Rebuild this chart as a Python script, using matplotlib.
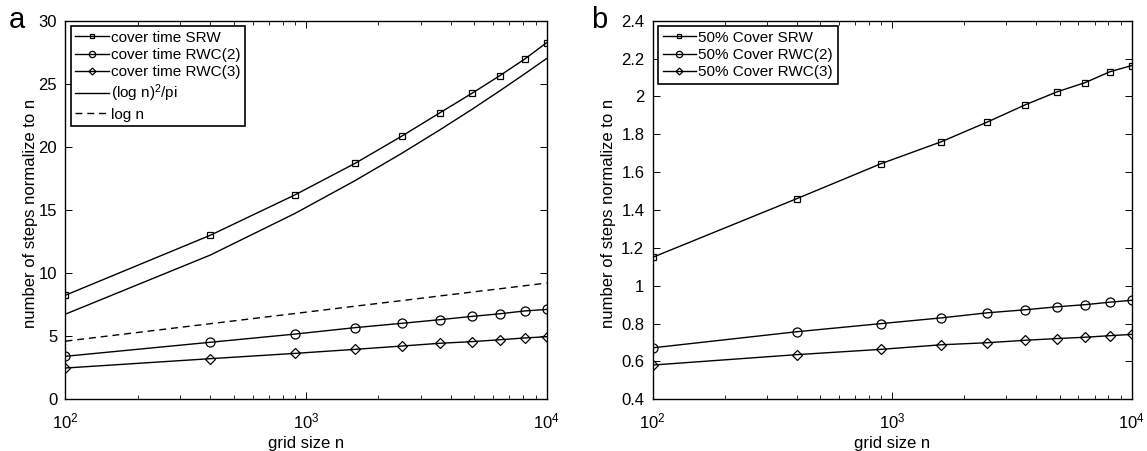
import math
import matplotlib
matplotlib.use("Agg")
import matplotlib.pyplot as plt
from matplotlib.ticker import LogLocator, NullFormatter, FixedLocator, FuncFormatter

plt.rcParams['font.family'] = ['Liberation Sans', 'DejaVu Sans']
plt.rcParams['mathtext.fontset'] = 'custom'
plt.rcParams['mathtext.rm'] = 'Liberation Sans'
plt.rcParams['mathtext.it'] = 'Liberation Sans'

grid_n = [100, 400, 900, 1600, 2500, 3600, 4900, 6400, 8100, 10000]

# panel a
cover_srw = [8.25, 13.0, 16.2, 18.7, 20.85, 22.7, 24.25, 25.65, 26.95, 28.25]
cover_rwc2 = [3.41, 4.52, 5.17, 5.68, 6.02, 6.31, 6.57, 6.78, 7.0, 7.12]
cover_rwc3 = [2.48, 3.22, 3.64, 3.96, 4.22, 4.44, 4.57, 4.72, 4.86, 4.96]
log_sq_pi = [6.75, 11.43, 14.73, 17.33, 19.49, 21.35, 22.98, 24.45, 25.78, 27.0]
log_n = [4.61, 5.99, 6.80, 7.38, 7.82, 8.19, 8.50, 8.76, 9.00, 9.21]

# panel b
half_srw = [1.15, 1.46, 1.645, 1.76, 1.865, 1.956, 2.025, 2.073, 2.13, 2.163]
half_rwc2 = [0.672, 0.757, 0.80, 0.83, 0.857, 0.873, 0.889, 0.90, 0.913, 0.923]
half_rwc3 = [0.581, 0.636, 0.664, 0.688, 0.699, 0.712, 0.721, 0.728, 0.736, 0.743]

fig = plt.figure(figsize=(11.47, 4.51), dpi=100)
axa = fig.add_axes([0.0571, 0.1146, 0.4194, 0.8395])
axb = fig.add_axes([0.569, 0.1146, 0.4176, 0.8395])

lw = 1.0
mk = dict(markerfacecolor='none', markeredgecolor='black', markeredgewidth=0.9)
sq = dict(marker='s', ms=5)
ci = dict(marker='o', ms=6.5)
di = dict(marker='D', ms=5)

axa.plot(grid_n, cover_srw, '-', color='black', lw=lw, label='cover time SRW', **sq, **mk)
axa.plot(grid_n, cover_rwc2, '-', color='black', lw=lw, label='cover time RWC(2)', **ci, **mk)
axa.plot(grid_n, cover_rwc3, '-', color='black', lw=lw, label='cover time RWC(3)', **di, **mk)
axa.plot(grid_n, log_sq_pi, '-', color='black', lw=lw, label=r'(log n)$^{2}$/pi')
axa.plot(grid_n, log_n, '--', color='black', lw=lw, label='log n', dashes=(5, 3.5))

axb.plot(grid_n, half_srw, '-', color='black', lw=lw, label='50% Cover SRW', **sq, **mk)
axb.plot(grid_n, half_rwc2, '-', color='black', lw=lw, label='50% Cover RWC(2)', **ci, **mk)
axb.plot(grid_n, half_rwc3, '-', color='black', lw=lw, label='50% Cover RWC(3)', **di, **mk)

axa.set_ylim(0, 30)
axa.set_yticks([0, 5, 10, 15, 20, 25, 30])
axb.set_ylim(0.4, 2.4)
axb.set_yticks([0.4, 0.6, 0.8, 1.0, 1.2, 1.4, 1.6, 1.8, 2.0, 2.2, 2.4])
axb.set_yticklabels(['0.4', '0.6', '0.8', '1', '1.2', '1.4', '1.6', '1.8', '2', '2.2', '2.4'])

for ax, ylx in ((axa, -0.072), (axb, -0.093)):
    ax.set_xscale('log')
    ax.set_xlim(100, 10000)
    ax.xaxis.set_major_locator(FixedLocator([100, 1000, 10000]))
    ax.xaxis.set_major_formatter(FuncFormatter(
        lambda v, p: r'$\mathdefault{10^{%d}}$' % round(math.log10(v))))
    ax.xaxis.set_minor_locator(LogLocator(base=10, subs=range(2, 10)))
    ax.xaxis.set_minor_formatter(NullFormatter())
    ax.tick_params(which='both', direction='in', top=True, right=True, labelsize=12, colors='black')
    ax.tick_params(which='major', length=5, width=0.7, pad=6)
    ax.tick_params(axis='x', which='major', pad=9)
    ax.tick_params(which='minor', length=3, width=0.6)
    for s in ax.spines.values():
        s.set_linewidth(1.0)
    ax.set_xlabel('grid size n', fontsize=12, labelpad=3)
    ax.set_ylabel('number of steps normalize to n', fontsize=12, va='center')
    ax.yaxis.set_label_coords(ylx, 0.49)
    leg = ax.legend(loc='upper left', fontsize=11, frameon=True, fancybox=False,
                    edgecolor='black', framealpha=1, handlelength=2.2, handletextpad=0.15,
                    borderpad=0.3, labelspacing=0.22, borderaxespad=0.35, numpoints=1,
                    markerscale=0.7)
    leg.get_frame().set_linewidth(1.2)

fig.text(0.008, 0.955, 'a', fontsize=21, va='center', ha='left')
fig.text(0.515, 0.955, 'b', fontsize=21, va='center', ha='left')

fig.savefig('out.png', dpi=100)
